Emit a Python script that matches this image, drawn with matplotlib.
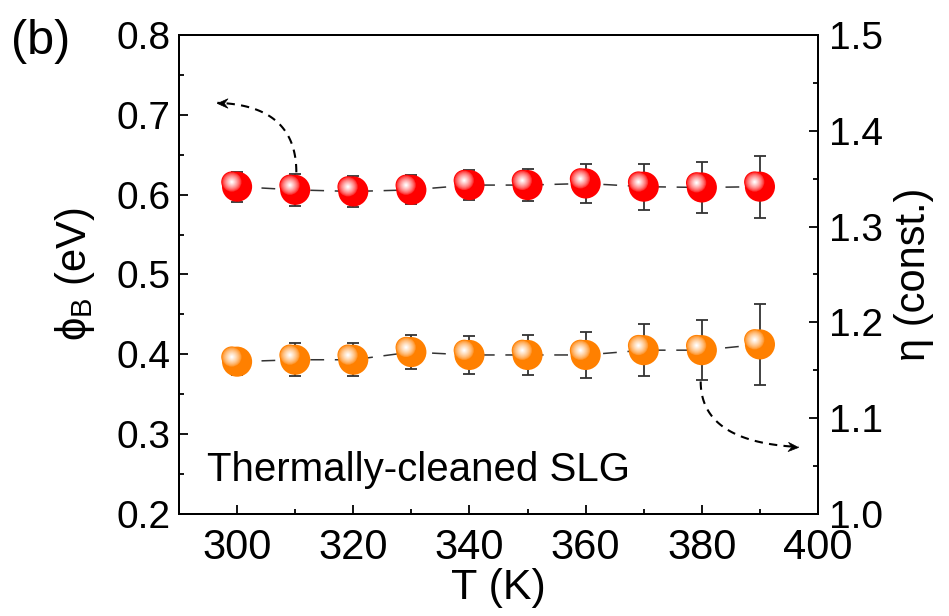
import numpy as np
import matplotlib.pyplot as plt
from matplotlib.ticker import MultipleLocator
from matplotlib.transforms import offset_copy, ScaledTranslation
from matplotlib.colors import to_rgb
from matplotlib.path import Path

plt.rcParams['font.family'] = ['Liberation Sans', 'DejaVu Sans']
plt.rcParams['mathtext.fontset'] = 'custom'
plt.rcParams['mathtext.rm'] = 'Liberation Sans'

# Temperature (K)
temperature = [300, 310, 320, 330, 340, 350, 360, 370, 380, 390]

# Schottky barrier height (eV), left axis
phi_b = [0.610, 0.606, 0.604, 0.606, 0.612, 0.612, 0.614, 0.610, 0.609, 0.610]
phi_b_err = [0.019, 0.020, 0.019, 0.018, 0.019, 0.020, 0.024, 0.029, 0.032, 0.039]

# Ideality factor, right axis
eta = [1.159, 1.161, 1.161, 1.169, 1.166, 1.166, 1.166, 1.171, 1.171, 1.177]
eta_err = [0.0135, 0.017, 0.017, 0.018, 0.020, 0.021, 0.024, 0.027, 0.031, 0.042]


def draw_spheres(ax, x, y, color, fig):
    """Shaded ball markers: a flat disc plus a soft highlight toward the upper left."""
    base = np.array(to_rgb(color))
    white = np.ones(3)
    ax.scatter(x, y, s=470, color=base, edgecolors='none', zorder=4)
    shift = offset_copy(ax.transData, fig=fig, x=-3.8, y=3.4, units='points')
    steps = 12
    for k in range(steps):
        t = k / (steps - 1)
        diam = 14.0 * (1 - t) + 1.2
        col = base * (1 - t ** 0.7) + white * t ** 0.7
        ax.scatter(x, y, s=diam ** 2, color=col, edgecolors='none',
                   transform=shift, zorder=5 + k * 0.01)


def stealth_marker(angle_deg):
    pts = np.array([[0, 0], [-1.0, 0.45], [-0.65, 0], [-1.0, -0.45], [0, 0]])
    a = np.deg2rad(angle_deg)
    rot = np.array([[np.cos(a), -np.sin(a)], [np.sin(a), np.cos(a)]])
    pts = pts @ rot.T
    codes = [Path.MOVETO, Path.LINETO, Path.LINETO, Path.LINETO, Path.CLOSEPOLY]
    return Path(pts, codes)


def dashed_curve(ax, start, corner, end, head_angle):
    t = np.linspace(0, 1, 60)
    p0, p1, p2 = np.array(start), np.array(corner), np.array(end)
    pts = ((1 - t) ** 2)[:, None] * p0 + (2 * (1 - t) * t)[:, None] * p1 + (t ** 2)[:, None] * p2
    ax.plot(pts[:, 0], pts[:, 1], color='black', lw=1.5, ls=(0, (4, 3)), zorder=3)
    ax.plot([end[0]], [end[1]], marker=stealth_marker(head_angle), ms=15,
            color='black', mec='black', mew=0.5, zorder=3)


fig = plt.figure(figsize=(9.49, 6.16), dpi=100)
ax = fig.add_axes([0.1886, 0.1656, 0.8620 - 0.1886, 0.9432 - 0.1656])
ax2 = ax.twinx()

# left axis: barrier height
ax.errorbar(temperature, phi_b, yerr=phi_b_err, fmt='none', ecolor='#333333',
            elinewidth=1.3, capsize=4, capthick=1.3, zorder=2)
ax.plot(temperature, phi_b, color='#333333', lw=1.1, ls=(0, (9, 7)), zorder=1)
draw_spheres(ax, temperature, phi_b, '#ff0000', fig)

# right axis: ideality factor
ax2.errorbar(temperature, eta, yerr=eta_err, fmt='none', ecolor='#333333',
             elinewidth=1.3, capsize=4, capthick=1.3, zorder=2)
ax2.plot(temperature, eta, color='#333333', lw=1.1, ls=(0, (9, 7)), zorder=1)
draw_spheres(ax2, temperature, eta, '#ff8000', fig)

ax.set_xlim(290, 400)
ax.set_ylim(0.2, 0.8)
ax2.set_ylim(1.0, 1.5)

ax.xaxis.set_major_locator(MultipleLocator(20))
ax.xaxis.set_minor_locator(MultipleLocator(10))
ax.yaxis.set_major_locator(MultipleLocator(0.1))
ax.yaxis.set_minor_locator(MultipleLocator(0.05))
ax2.yaxis.set_major_locator(MultipleLocator(0.1))
ax2.yaxis.set_minor_locator(MultipleLocator(0.05))

for a in (ax, ax2):
    a.tick_params(which='both', direction='in', width=1.3, labelsize=28, pad=6)
    a.tick_params(which='major', length=6.5)
    a.tick_params(which='minor', length=3.8)
    for sp in a.spines.values():
        sp.set_linewidth(1.4)
ax.tick_params(top=False, right=False, which='both')
ax.tick_params(axis='x', labelsize=30, pad=10)
ax2.tick_params(axis='y', pad=8)
ax.yaxis.set_major_formatter(plt.FormatStrFormatter('%.1f'))
ax2.yaxis.set_major_formatter(plt.FormatStrFormatter('%.1f'))

# lift the bottom right-hand label a little so it clears the "400"
for tick in ax2.yaxis.get_major_ticks():
    if abs(tick.get_loc() - 1.0) < 1e-6:
        lbl = tick.label2
        lbl.set_transform(lbl.get_transform() + ScaledTranslation(0, 6 / 72, fig.dpi_scale_trans))

ax.set_xlabel('T (K)', fontsize=31, labelpad=0)
ax.set_ylabel(r'ϕ$_\mathrm{B}$ (eV)', fontsize=30, labelpad=14)
ax2.set_ylabel('η (const.)', fontsize=30, labelpad=8)

ax.text(294.9, 0.255, 'Thermally-cleaned SLG', fontsize=29, va='center', ha='left')
fig.text(0.012, 0.933, '(b)', fontsize=35, va='center', ha='left')

# arrows pointing each series to its axis
dashed_curve(ax, (310.2, 0.628), (310.2, 0.712), (296.6, 0.715), 180)
dashed_curve(ax, (379.8, 0.366), (379.8, 0.290), (396.6, 0.284), -3)

fig.savefig('out.png', dpi=100)
